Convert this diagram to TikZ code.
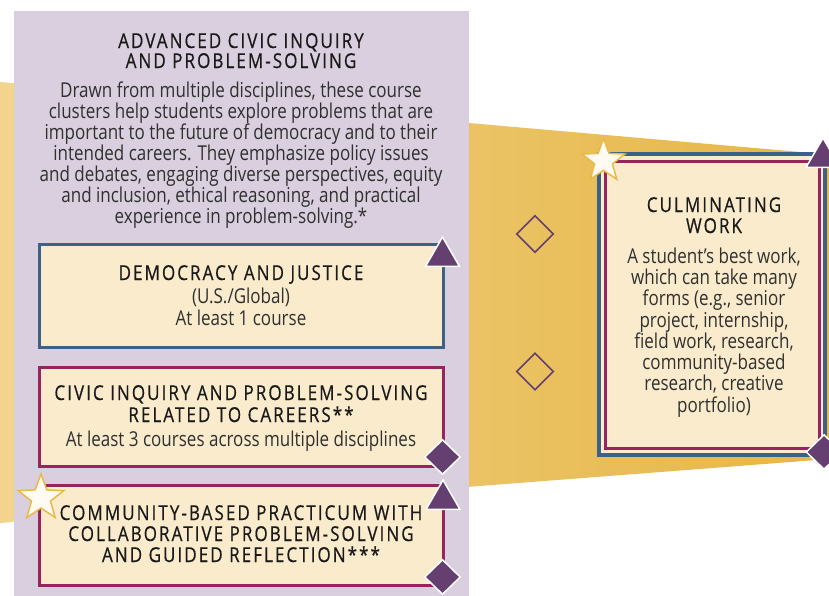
\documentclass[tikz,border=0pt]{standalone}
\usepackage{fontspec}
\setmainfont{Open Sans}[FakeStretch=0.83]
\newfontfamily\headfont{Open Sans}[FakeStretch=0.83,LetterSpace=10,FakeBold=0.6]
\usetikzlibrary{shapes.geometric}
\definecolor{goldL}{HTML}{F2D48E}
\definecolor{goldR}{HTML}{E6B646}
\definecolor{lav}{HTML}{D9CFDE}
\definecolor{cream}{HTML}{F9EBCB}
\definecolor{blueC}{HTML}{3D6186}
\definecolor{magC}{HTML}{97245F}
\definecolor{purpC}{HTML}{643F6F}
\definecolor{starY}{HTML}{E9B94A}
\definecolor{starW}{HTML}{FFFBF2}
\definecolor{bodygray}{HTML}{303030}
\definecolor{headgray}{HTML}{1A1A1A}
\begin{document}
\begin{tikzpicture}[x=1pt,y=-1pt,
  bodytext/.style={font=\fontsize{20.5}{21}\selectfont, text=bodygray, anchor=base, inner sep=0pt},
  headtext/.style={font=\headfont\fontsize{20.5}{21}\selectfont, text=headgray, anchor=base, inner sep=0pt},
  box/.style={rectangle, fill=cream, line width=3pt, inner sep=0pt, outer sep=0pt},
  tri/.style={regular polygon, regular polygon sides=3, fill=purpC, draw=white, line width=1.5pt, minimum size=39pt, inner sep=0pt},
  dia/.style={diamond, fill=purpC, draw=white, line width=1.5pt, minimum width=36pt, minimum height=35pt, inner sep=0pt},
  hdia/.style={diamond, draw=purpC, line width=1.6pt, minimum width=37pt, minimum height=37pt, inner sep=0pt},
  starshape/.style={star, star points=5, star point ratio=2.4, fill=starW, draw=starY, line width=1.5pt, minimum size=48pt, inner sep=0pt}
]
\useasboundingbox (0,0) rectangle (829,595);
\fill[white] (0,0) rectangle (829,595);
% golden band
\shade[left color=goldL, right color=goldR] (0,82) -- (829,154.5) -- (829,459) -- (0,523) -- cycle;
% lavender panel
\node[rectangle, fill=lav, minimum width=455pt, minimum height=590pt, inner sep=0pt, anchor=north west] (panel) at (14,11) {};
% left title and description
\node[headtext] (t1) at (241,48) {ADVANCED CIVIC INQUIRY};
\node[headtext] (t2) at (241,68) {AND PROBLEM-SOLVING};
\node[bodytext] (d1) at (241,97) {Drawn from multiple disciplines, these course};
\node[bodytext] (d2) at (241,118) {clusters help students explore problems that are};
\node[bodytext] (d3) at (241,139) {important to the future of democracy and to their};
\node[bodytext] (d4) at (241,160) {intended careers. They emphasize policy issues};
\node[bodytext] (d5) at (241,181) {and debates, engaging diverse perspectives, equity};
\node[bodytext] (d6) at (241,202) {and inclusion, ethical reasoning, and practical};
\node[bodytext] (d7) at (241,223) {experience in problem-solving.*};
% box 1
\node[box, draw=blueC, minimum width=404pt, minimum height=103pt] (dj) at (241.3,296) {};
\node[headtext] (dj1) at (241,280) {DEMOCRACY AND JUSTICE};
\node[bodytext] (dj2) at (241,303) {(U.S./Global)};
\node[bodytext] (dj3) at (241,325) {At least 1 course};
% box 2
\node[box, draw=magC, minimum width=404pt, minimum height=99pt] (ci) at (241.3,417) {};
\node[headtext] (ci1) at (241,400) {CIVIC INQUIRY AND PROBLEM-SOLVING};
\node[headtext] (ci2) at (241,422) {RELATED TO CAREERS**};
\node[bodytext] (ci3) at (241,446) {At least 3 courses across multiple disciplines};
% box 3
\node[box, draw=magC, minimum width=404pt, minimum height=100pt] (cb) at (241.3,535.5) {};
\node[headtext] (cb1) at (241,520) {COMMUNITY-BASED PRACTICUM WITH};
\node[headtext] (cb2) at (241,541) {COLLABORATIVE PROBLEM-SOLVING};
\node[headtext] (cb3) at (241,562) {AND GUIDED REFLECTION***};
% culminating work
\node[box, draw=blueC, line width=3.5pt, minimum width=226pt, minimum height=301pt] (cw) at (712,304.5) {};
\node[rectangle, draw=magC, line width=3pt, minimum width=214pt, minimum height=287pt, inner sep=0pt] (cwin) at (712,304.5) {};
\node[headtext] (cw1) at (714,212) {CULMINATING};
\node[headtext] (cw2) at (714,233) {WORK};
\node[bodytext] (cw3) at (714,263) {A student’s best work,};
\node[bodytext] (cw4) at (714,284) {which can take many};
\node[bodytext] (cw5) at (714,305) {forms (e.g., senior};
\node[bodytext] (cw6) at (714,327) {project, internship,};
\node[bodytext] (cw7) at (714,348) {field work, research,};
\node[bodytext] (cw8) at (714,369) {community-based};
\node[bodytext] (cw9) at (714,390) {research, creative};
\node[bodytext] (cw10) at (714,412) {portfolio)};
% hollow diamonds
\node[hdia] (h1) at (535,234) {};
\node[hdia] (h2) at (535,371.5) {};
% markers
\node[tri] (tr1) at (442.5,256.5) {};
\node[tri] (tr2) at (443,499.5) {};
\node[tri] (tr3) at (823,157.5) {};
\node[dia] (di1) at (442.5,457) {};
\node[dia] (di2) at (442.5,577) {};
\node[dia] (di3) at (824,452) {};
\node[starshape] (s1) at (41,498) {};
\node[starshape, minimum size=45pt] (s2) at (603.5,161) {};
\end{tikzpicture}
\end{document}
